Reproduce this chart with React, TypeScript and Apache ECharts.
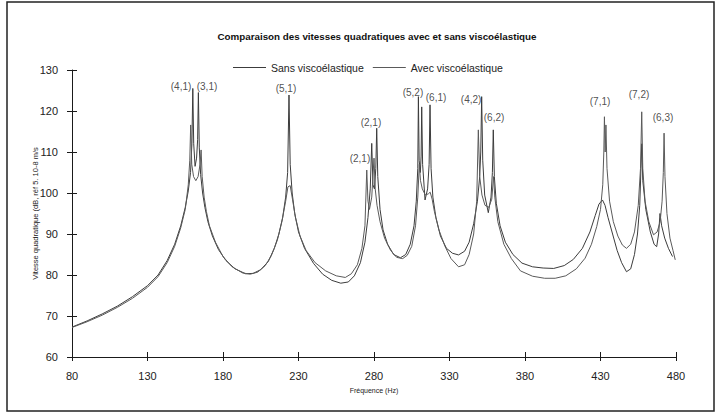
import React, { useEffect, useRef } from "react";
import * as echarts from "echarts";

const titleText = "Comparaison des vitesses quadratiques avec et sans viscoélastique";
const seriesNames = ["Sans viscoélastique", "Avec viscoélastique"];
const xAxisName = "Fréquence (Hz)";
const yAxisName = "Vitesse quadratique (dB, réf 5. 10-8 m/s";

const xMin = 80;
const xMax = 480;
const xStep = 50;
const yMin = 60;
const yMax = 130;
const yStep = 10;

const sansFreq = [
  80, 90, 100, 110, 120, 130, 137, 143, 148, 152, 155, 157, 158.5, 159.4, 160, 160.6, 161.5, 162.5, 163.2, 163.7,
  164.3, 165.2, 166.5, 168, 170, 173, 177, 182, 188, 195, 200, 205, 210, 214, 217, 219.5, 221.5, 222.8, 223.7,
  224.5, 225.8, 227.5, 230, 234, 240, 246, 252, 258, 263, 267, 271, 274, 276, 277.5, 278.5, 279.3, 280.3, 281.2,
  281.8, 282.5, 284, 286, 289, 293, 297.5, 301, 304, 306.5, 308, 309, 309.4, 309.9, 310.7, 311.2, 311.6, 312.2,
  313.8, 315.5, 316.5, 317.1, 317.8, 319, 321, 324, 328, 332, 336, 340, 343, 346, 348.5, 350, 350.7, 351.3, 352,
  353.3, 355.7, 357.5, 358.4, 359, 359.7, 361, 363.5, 367, 372, 378, 385, 392, 399, 406, 412, 418, 423, 426.5,
  429, 431.3, 433, 435, 438, 441, 444, 447.2, 450, 452.5, 454.5, 456, 457.3, 458, 460, 463, 465.5, 467.2, 468.5,
  469.4, 470.5, 472.5, 475, 477.7,
];
const sansVal = [
  67.3, 68.8, 70.5, 72.4, 74.7, 77.4, 80, 83.5, 87.5, 92, 96.5, 100.5, 105, 112, 125.5, 112, 106.5, 108.5, 113, 124.5,
  111, 104.5, 100, 96.5, 93, 89.5, 86.2, 83.5, 81.5, 80.3, 80.4, 81.3, 83.3, 86.5, 90, 94, 99, 105, 123.9,
  107, 100, 95, 90.5, 86.5, 82.8, 80.2, 78.7, 78.0, 78.3, 79.8, 83, 88, 94, 101, 112.1, 102, 101, 106,
  115.8, 104, 96, 91, 87.5, 85, 84.2, 85, 87.5, 92, 98, 106, 123.5, 108, 105, 109, 121, 107,
  98.3, 101, 107, 121.5, 106, 99, 94, 89.5, 86.5, 85.3, 84.9, 85.8, 88, 92.5, 98, 104, 110, 123.5, 108,
  99.5, 95.2, 99, 105, 115.4, 104, 97.5, 92, 88, 85, 82.9, 82, 81.7, 81.6, 82.3, 83.8, 86.5, 90.5, 94.5,
  97.3, 98.3, 97, 94, 90, 86, 83, 80.8, 81.5, 85, 90, 97, 112, 103, 96, 90.5, 87.5, 86.9, 90,
  95, 92, 89, 86.5, 84.5,
];

const avecFreq = [
  80, 90, 100, 110, 120, 130, 137, 143, 148, 152, 155, 157, 158, 158.6, 159.3, 160.5, 162, 163.5, 164.8, 165.5,
  166.2, 167.5, 169, 171, 175, 180, 186, 193, 198, 203, 208, 212, 216, 219, 221.5, 223, 224.5, 226, 228, 231,
  235, 241, 248, 255, 261, 265, 269, 272, 274, 275.2, 276, 277, 278.5, 280, 280.8, 282, 284, 287, 291, 295,
  299, 302, 305, 307.5, 309, 310, 310.8, 312, 314, 316, 317.2, 318.5, 320, 323, 327, 331, 336, 340, 343, 346,
  348, 349.1, 350, 351.5, 353.5, 356, 358, 359.2, 360, 362, 366, 371, 377, 385, 393, 400, 407, 414, 419.8, 424,
  427.5, 430, 431.5, 432.2, 432.6, 433.1, 433.6, 434.3, 436, 438.5, 441.5, 444.5, 447.2, 450, 452.5, 455, 456.5,
  457.3, 458, 459.5, 462, 465.1, 467.5, 469.5, 470.8, 471.6, 472.1, 472.7, 474, 476, 478, 479.5,
];
const avecVal = [
  67.2, 68.6, 70.2, 72.1, 74.3, 77.0, 79.6, 83, 87, 91.5, 96, 102, 108, 116.6, 107, 104, 103, 104, 107, 110.5,
  104, 99, 95.5, 92, 88, 84.5, 82, 80.5, 80.2, 80.7, 82.3, 84.7, 88.5, 93, 98, 101.5, 101.8, 98.5, 94, 89.5,
  86, 83, 81, 79.8, 79.4, 80.3, 82.5, 86.5, 92, 105.6, 98, 96, 99, 108.5, 101, 97, 93, 89, 86, 84.3,
  84.0, 84.8, 87, 92, 99, 107, 103, 101, 99.5, 99.8, 100.2, 98.5, 95.5, 91, 87, 84, 82.0, 82.5, 85, 90,
  98, 115.4, 104, 99.5, 97, 96.5, 98.5, 104, 99, 93, 87.5, 84, 81, 79.7, 79.2, 79.2, 79.8, 81.5, 84.1, 87.5,
  91.8, 96, 102, 110, 118.6, 110, 116.6, 106, 98, 93, 89.5, 87.3, 86.5, 87.5, 90.5, 97, 106,
  119.8, 106, 98, 93, 89.8, 90.5, 93, 98, 105, 114.6, 104, 95, 89, 86, 83.7,
];

const modeLabels = ["(4,1)", "(3,1)", "(5,1)", "(2,1)", "(2,1)", "(5,2)", "(6,1)", "(4,2)", "(6,2)", "(7,1)", "(7,2)", "(6,3)"];
const modeLabelFreq = [152.2, 169.4, 221.7, 278.0, 270.7, 305.8, 321.1, 344.3, 359.5, 429.7, 455.5, 471.4];
const modeLabelVal = [125.9, 125.9, 125.4, 117.3, 108.3, 124.4, 123.2, 122.9, 118.3, 122.2, 124.1, 118.5];

const FONT = "'Liberation Sans', Arial, sans-serif";

export default function App() {
  const ref = useRef<HTMLDivElement>(null);
  useEffect(() => {
    if (!ref.current) return;
    const chart = echarts.init(ref.current, undefined, { renderer: "svg" });
    const axisColor = "#1a1a1a";
    const baseX = {
      type: "value",
      min: xMin,
      max: xMax,
      interval: xStep,
      splitLine: { show: false },
    };
    const baseY = {
      type: "value",
      min: yMin,
      max: yMax,
      interval: yStep,
      splitLine: { show: false },
    };
    chart.setOption({
      animation: false,
      backgroundColor: "#ffffff",
      title: {
        text: titleText,
        left: 372,
        textAlign: "center",
        top: 26,
        textStyle: { fontFamily: FONT, fontWeight: "bold", fontSize: 9.8, color: "#111" },
      },
      legend: {
        data: seriesNames,
        left: 228,
        top: 57,
        icon: "rect",
        itemWidth: 33,
        itemHeight: 1,
        itemGap: 9,
        textStyle: { fontFamily: FONT, fontSize: 10.5, color: "#222" },
      },
      grid: { left: 72, right: 41, top: 70, bottom: 58 },
      xAxis: [
        {
          ...baseX,
          position: "bottom",
          axisLine: { show: true, lineStyle: { color: axisColor, width: 1 } },
          axisTick: { show: true, length: 4, lineStyle: { color: axisColor } },
          axisLabel: { margin: 13, fontSize: 11, color: "#222", fontFamily: FONT },
          name: xAxisName,
          nameLocation: "middle",
          nameGap: 30,
          nameTextStyle: { fontSize: 7, color: "#222", fontFamily: FONT },
        },
        {
          ...baseX,
          position: "bottom",
          axisLine: { show: false },
          axisTick: { show: true, inside: true, length: 5, lineStyle: { color: axisColor } },
          axisLabel: { show: false },
        },
      ],
      yAxis: [
        {
          ...baseY,
          position: "left",
          axisLine: { show: true, lineStyle: { color: axisColor, width: 1 } },
          axisTick: { show: true, length: 5, lineStyle: { color: axisColor } },
          axisLabel: { margin: 14, fontSize: 11, color: "#222", fontFamily: FONT },
          name: yAxisName,
          nameLocation: "middle",
          nameGap: 33,
          nameRotate: 90,
          nameMoveOverlap: false,
          nameTextStyle: { fontSize: 7.5, color: "#222", fontFamily: FONT },
        },
        {
          ...baseY,
          position: "left",
          axisLine: { show: false },
          axisTick: { show: true, inside: true, length: 5, lineStyle: { color: axisColor } },
          axisLabel: { show: false },
        },
      ],
      graphic: [
        {
          type: "rect",
          silent: true,
          shape: { x: 7, y: 2, width: 707, height: 409 },
          style: { fill: "none", stroke: "#222", lineWidth: 1.5 },
        },
      ],
      series: [
        {
          name: seriesNames[0],
          type: "line",
          xAxisIndex: 0,
          yAxisIndex: 0,
          symbol: "none",
          data: sansFreq.map((f, i) => [f, sansVal[i]]),
          lineStyle: { color: "#3c3c3c", width: 1 },
          itemStyle: { color: "#3c3c3c" },
        },
        {
          name: seriesNames[1],
          type: "line",
          xAxisIndex: 0,
          yAxisIndex: 0,
          symbol: "none",
          data: avecFreq.map((f, i) => [f, avecVal[i]]),
          lineStyle: { color: "#5a5a5a", width: 1 },
          itemStyle: { color: "#5a5a5a" },
        },
        {
          name: "modes",
          type: "scatter",
          xAxisIndex: 0,
          yAxisIndex: 0,
          silent: true,
          symbolSize: 1,
          itemStyle: { color: "rgba(0,0,0,0)" },
          data: modeLabelFreq.map((f, i) => [f, modeLabelVal[i], modeLabels[i]]),
          label: {
            show: true,
            position: "inside",
            formatter: (p: any) => p.data[2],
            fontSize: 10,
            color: "#222",
            fontFamily: FONT,
          },
        },
      ],
    });
    return () => chart.dispose();
  }, []);
  return (
    <div
      ref={ref}
      style={{ position: "fixed", left: 0, top: 0, width: 717, height: 415, background: "#fff" }}
    />
  );
}
